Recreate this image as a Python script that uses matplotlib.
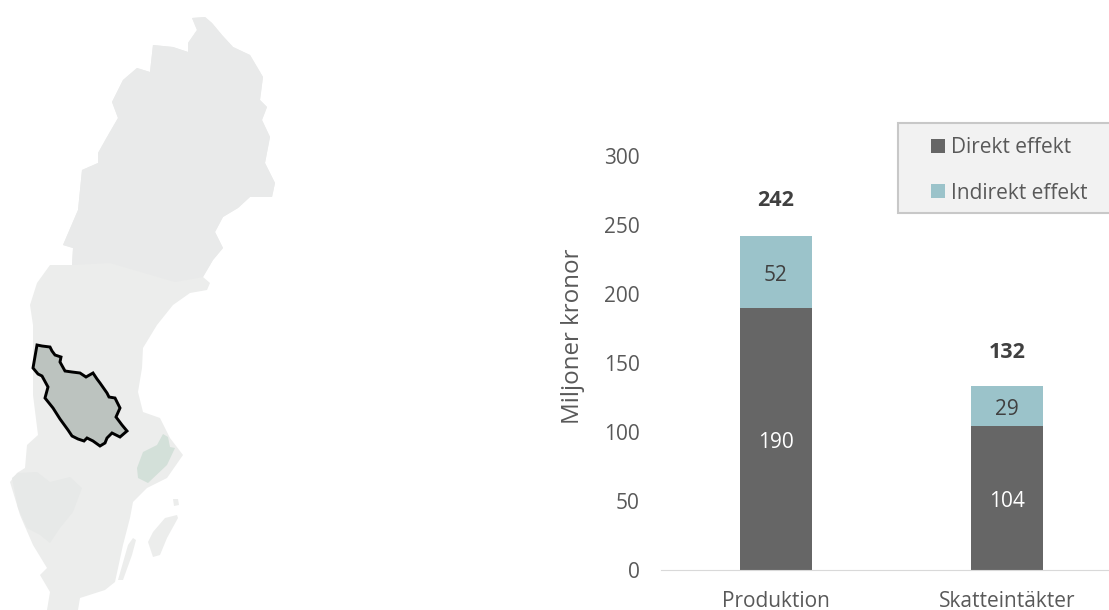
"""Karta över Sverige och staplar med direkt och indirekt effekt"""
from matplotlib import pyplot as plt
from matplotlib.patches import Polygon, Rectangle

plt.rcParams['font.family'] = ['Open Sans', 'DejaVu Sans']

categories = ["Produktion", "Skatteintäkter"]
direkt = [190, 104]
indirekt = [52, 29]
totals = [242, 132]
yticks = [0, 50, 100, 150, 200, 250, 300]

# konturer i bildens pixlar
sweden = [(192, 18), (205, 17), (212, 23), (222, 35), (233, 47), (250, 55), (263, 77),
          (260, 100), (267, 107), (262, 120), (270, 137), (265, 163), (275, 183), (272, 197),
          (263, 197), (250, 197), (238, 208), (223, 217), (215, 232), (223, 248), (213, 260),
          (203, 277), (210, 283), (207, 290), (190, 293), (173, 305), (157, 325), (143, 348),
          (142, 368), (138, 392), (143, 412), (160, 418), (170, 438), (183, 455), (167, 478),
          (147, 488), (133, 502), (130, 518), (123, 545), (115, 582), (105, 590), (80, 598),
          (78, 610), (47, 610), (50, 592), (40, 575), (47, 568), (33, 545), (20, 515),
          (10, 482), (17, 473), (25, 468), (27, 445), (38, 435), (33, 395), (33, 325),
          (30, 305), (37, 283), (50, 265), (72, 265), (73, 248), (63, 245), (78, 210),
          (82, 170), (98, 163), (98, 153), (107, 137), (118, 118), (112, 102), (123, 80),
          (137, 68), (150, 72), (153, 45), (173, 47), (188, 52), (188, 43), (197, 30)]
north = sweden[:22] + [(175, 282), (110, 263)] + sweden[59:]
gotland = [(177, 515), (165, 518), (153, 532), (148, 542), (153, 557), (160, 555),
           (167, 538), (178, 518)]
oland = [(133, 538), (128, 545), (118, 580), (123, 580), (132, 555), (136, 540)]
sandon = [(173, 499), (178, 499), (179, 505), (174, 506)]
vastra = [(12, 478), (18, 473), (37, 472), (50, 482), (70, 477), (82, 488), (73, 512),
          (60, 528), (50, 543), (40, 535), (27, 528), (18, 508)]
stockholm = [(163, 434), (168, 437), (170, 447), (175, 448), (167, 465), (148, 483),
             (138, 478), (137, 468), (143, 452), (157, 445)]
dalarna = [(37, 345), (42, 346), (50, 347), (52, 351), (55, 355), (61, 357), (60, 362), (65, 371),
           (72, 372), (80, 373), (86, 377), (93, 373), (97, 379), (100, 383), (107, 393), (109, 397),
           (115, 398), (120, 408), (116, 417), (122, 425), (127, 431), (120, 437), (112, 433),
           (107, 438), (105, 443), (100, 446), (93, 441), (87, 438), (84, 441), (78, 439),
           (72, 436), (68, 430), (60, 419), (53, 408), (45, 398), (48, 387), (42, 376), (38, 374), (33, 368)]

fig = plt.figure(figsize=(11.09, 6.10), dpi=100)

# kartan
bg = fig.add_axes([0, 0, 1, 1])
bg.set_xlim(0, 1109)
bg.set_ylim(610, 0)
bg.axis("off")
for shape in [sweden, gotland, oland, sandon]:
    bg.add_patch(Polygon(shape, facecolor="#ecedec", edgecolor="none"))
bg.add_patch(Polygon(north, facecolor="#e9eaea", edgecolor="none"))
bg.add_patch(Polygon(vastra, facecolor="#e7e9e8", edgecolor="none"))
bg.add_patch(Polygon(stockholm, facecolor="#d3e0d9", edgecolor="none"))
bg.add_patch(Polygon(dalarna, facecolor="#bcc3bf", edgecolor="black", linewidth=2.1))

# staplarna
ax = fig.add_axes([660.5 / 1109, 40 / 610, 462 / 1109, 414 / 610])
ax.patch.set_alpha(0)
x = range(len(categories))
ax.bar(x, direkt, 0.316, color="#666666", label="Direkt effekt")
ax.bar(x, indirekt, 0.316, bottom=direkt, color="#9bc3ca", label="Indirekt effekt")
ax.set_xlim(-0.5, 1.5)
ax.set_ylim(0, 300)
ax.set_xticks(list(x))
ax.set_xticklabels(categories)
ax.set_yticks(yticks)
ax.tick_params(length=0, labelsize=15, labelcolor="#595959")
ax.tick_params(axis="y", pad=14.8)
ax.tick_params(axis="x", pad=15)
ax.set_ylabel("Miljoner kronor", fontsize=17.4, color="#595959", labelpad=13.5, y=0.565)
for side in ["top", "right", "left"]:
    ax.spines[side].set_visible(False)
ax.spines["bottom"].set_color("#d9d9d9")

for i in x:
    ax.text(i, direkt[i] / 2 - 2.5, str(direkt[i]), ha="center", va="center",
            fontsize=15, color="white")
    ax.text(i, direkt[i] + indirekt[i] / 2 - 2.5, str(indirekt[i]), ha="center", va="center",
            fontsize=15, color="#404040")
    ax.text(i, totals[i] + 25.8, str(totals[i]), ha="center", va="center",
            fontsize=15.5, fontweight="bold", color="#404040")

# legendens ruta går ut över bildens kant
bg.add_patch(Rectangle((898, 123), 230, 90, facecolor="#f2f2f2", edgecolor="#c8c8c8",
                       linewidth=1.5))
ax.legend(loc="upper left", bbox_to_anchor=(912.7 / 1109, 1 - 118.5 / 610),
          bbox_transform=fig.transFigure, frameon=False, fontsize=15,
          labelcolor="#595959", handlelength=0.67, handleheight=0.67, handletextpad=0.29,
          labelspacing=1.17)

fig.savefig("out.png", dpi=100)
